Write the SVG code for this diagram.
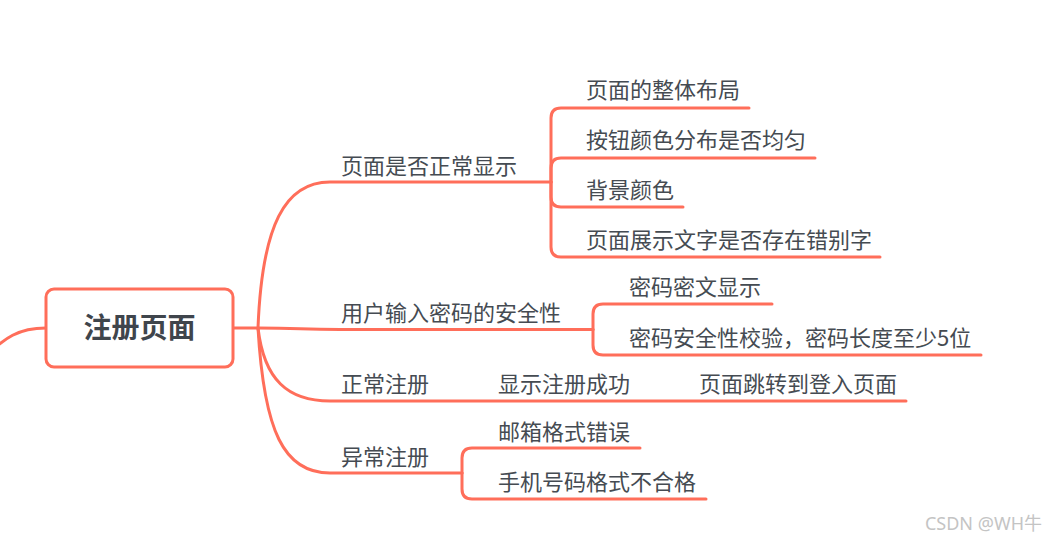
<svg xmlns="http://www.w3.org/2000/svg" width="1046" height="542" viewBox="0 0 1046 542">
<style>
.ln{fill:none;stroke:#FF6E5A;stroke-width:3;stroke-linecap:round;stroke-linejoin:round}
.t{font-family:"Noto Sans CJK SC","Noto Sans",sans-serif;font-size:22px;fill:#454b52}
.root{font-family:"Noto Sans CJK SC","Noto Sans",sans-serif;font-size:28px;font-weight:bold;fill:#3f454c}
.wm{font-family:"Noto Sans","Noto Sans CJK SC",sans-serif;font-size:18px;fill:#c4c4c4}
</style>
<rect width="1046" height="542" fill="#ffffff"/>
<g id="connectors">
<path class="ln" d="M-20,362 C5,336 20,328 46,328"/>
<path class="ln" d="M233,328 L258,328"/>
<path class="ln" d="M258,328 C262,225 285,182 330,182 L551,182"/>
<path class="ln" d="M258,328 C300,328 300,329.5 340,329.5 L593,329.5"/>
<path class="ln" d="M258,328 C264,380 288,401 330,401 L906,401"/>
<path class="ln" d="M258,328 C264,432 284,473 330,473 L462,473"/>
<path class="ln" d="M551,182 L551,118 Q551,108 561,108 L749,108"/>
<path class="ln" d="M551,182 L551,168 Q551,158 561,158 L815,158"/>
<path class="ln" d="M551,182 L551,197 Q551,207 561,207 L683,207"/>
<path class="ln" d="M551,182 L551,247 Q551,257 561,257 L880,257"/>
<path class="ln" d="M593,329.5 L593,314 Q593,304 603,304 L772,304"/>
<path class="ln" d="M593,329.5 L593,345 Q593,355 603,355 L981,355"/>
<path class="ln" d="M462,473 L462,458 Q462,448 472,448 L640,448"/>
<path class="ln" d="M462,473 L462,489 Q462,499 472,499 L706,499"/>
</g>
<g id="root">
<rect x="46" y="289" width="187" height="78" rx="8" fill="#ffffff" stroke="#FF6E5A" stroke-width="3"/>
<text class="root" x="139.5" y="338" text-anchor="middle">注册页面</text>
</g>
<g id="n1"><text class="t" x="341" y="174">页面是否正常显示</text></g>
<g id="n1a"><text class="t" x="586" y="98">页面的整体布局</text></g>
<g id="n1b"><text class="t" x="586" y="148">按钮颜色分布是否均匀</text></g>
<g id="n1c"><text class="t" x="586" y="198">背景颜色</text></g>
<g id="n1d"><text class="t" x="586" y="248">页面展示文字是否存在错别字</text></g>
<g id="n2"><text class="t" x="341" y="321">用户输入密码的安全性</text></g>
<g id="n2a"><text class="t" x="629" y="295">密码密文显示</text></g>
<g id="n2b"><text class="t" x="629" y="346">密码安全性校验，密码长度至少5位</text></g>
<g id="n3"><text class="t" x="341" y="392">正常注册</text></g>
<g id="n3a"><text class="t" x="498" y="392">显示注册成功</text></g>
<g id="n3b"><text class="t" x="699" y="392">页面跳转到登入页面</text></g>
<g id="n4"><text class="t" x="341" y="465">异常注册</text></g>
<g id="n4a"><text class="t" x="498" y="440">邮箱格式错误</text></g>
<g id="n4b"><text class="t" x="498" y="490">手机号码格式不合格</text></g>
<text class="wm" x="1042" y="530" text-anchor="end">CSDN @WH牛</text>
</svg>
